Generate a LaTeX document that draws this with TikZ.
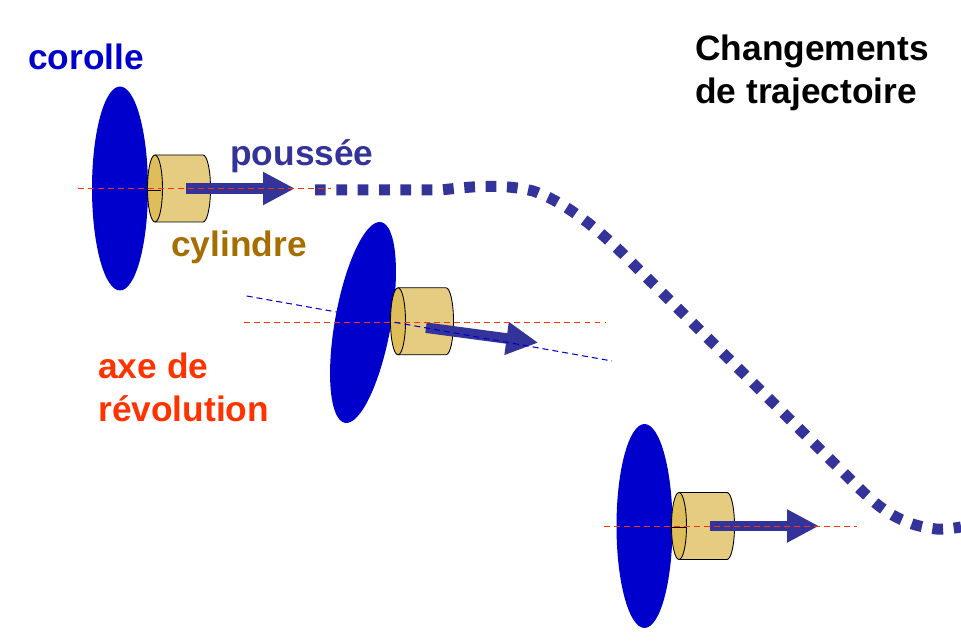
\documentclass[tikz,border=0pt]{standalone}
\usepackage{fontspec}
\setmainfont{Liberation Sans}
\usetikzlibrary{positioning, arrows.meta, shapes.geometric}
\definecolor{corolleblue}{RGB}{0, 0, 204}
\definecolor{poussee}{RGB}{51, 51, 153}
\definecolor{cylindrebrown}{RGB}{166, 110, 0}
\definecolor{axered}{RGB}{255, 51, 0}
\definecolor{cylbody}{RGB}{229, 204, 128}
\definecolor{cylface}{RGB}{222, 189, 90}

\begin{document}
\begin{tikzpicture}[
    x=0.02cm, y=-0.02cm,
    corolle/.style={ellipse, fill=corolleblue, inner sep=0pt, minimum width=1.12cm, minimum height=4.08cm},
    thrust/.style={poussee, line width=0.21cm, -{Triangle[length=0.64cm, width=0.62cm]}},
    axis/.style={line width=0.6pt, dash pattern=on 3.4pt off 2.3pt},
    label/.style={font=\fontsize{20.1}{24}\selectfont\bfseries, inner sep=0pt, anchor=base west, align=left},
]
\useasboundingbox (0,0) rectangle (961,644);

% ===== trajectoire =====
\draw[poussee, line width=0.22cm, dash pattern=on 6.1pt off 6.05pt]
    (315,190) -- (440,190) .. controls (470,187) and (500,183) .. (533,191)
    .. controls (560,200) and (590,222) .. (620,251) -- (862,491)
    .. controls (880,508) and (900,525) .. (936,529)
    .. controls (945,529.5) and (955,528) .. (961,527);

% ===== corolles =====
\node[corolle] (corolleA) at (120,188.5) {};
\node[corolle, rotate=-10.2] (corolleB) at (363,322.5) {};
\node[corolle] (corolleC) at (644.5,526) {};

% ===== cylindres =====
\foreach \x/\y in {155/188.5, 398/321.3, 679/526} {
    \draw[line width=0.5pt, fill=cylbody] (\x,\y-33.5) -- (\x+48,\y-33.5)
        arc[start angle=-90, end angle=90, x radius=7.5, y radius=33.5] -- (\x,\y+33.5);
    \draw[line width=0.5pt, fill=cylface] (\x,\y) ellipse[x radius=7.5, y radius=33.5];
}
\draw[line width=0.5pt] (148,190) -- (161,190);
\draw[line width=0.5pt] (672,527.5) -- (687,527.5);

% ===== poussees =====
\coordinate (startA) at (186,188.5);
\coordinate (tipA) at (295,188.5);
\coordinate (startB) at (426,327.7);
\coordinate (tipB) at (538.3,342.7);
\coordinate (startC) at (710,526);
\coordinate (tipC) at (819,526);
\draw[thrust] (startA) -- (tipA);
\draw[thrust] (startB) -- (tipB);
\draw[thrust] (startC) -- (tipC);

% ===== axes =====
\coordinate (axeAwest) at (78,188.5);
\coordinate (axeAeast) at (331,188.5);
\coordinate (axeBwest) at (244,322.7);
\coordinate (axeBeast) at (606,322.7);
\coordinate (tiltwest) at (246.7,296);
\coordinate (tilteast) at (612,361);
\coordinate (axeCwest) at (604,526.2);
\coordinate (axeCeast) at (857,526.2);
\draw[axis, draw=axered] (axeCwest) -- (axeCeast);
\draw[axis, draw=axered] (axeAwest) -- (axeAeast);
\draw[axis, draw=axered] (axeBwest) -- (axeBeast);
\draw[axis, draw=corolleblue] (tiltwest) -- (tilteast);

% ===== textes =====
\node[label, text=corolleblue] (corolleLabel) at (28,69.5) {corolle};
\node[label, text=poussee] (pousseeLabel) at (230,166) {poussée};
\node[label, text=cylindrebrown] (cylindreLabel) at (171,257) {cylindre};
\node[label, text=axered, anchor=north west] (axeLabel) at (98,353) {axe de\\révolution};
\node[label, text=black, anchor=north west] (titre) at (695,35) {Changements\\de trajectoire};

\end{tikzpicture}
\end{document}
